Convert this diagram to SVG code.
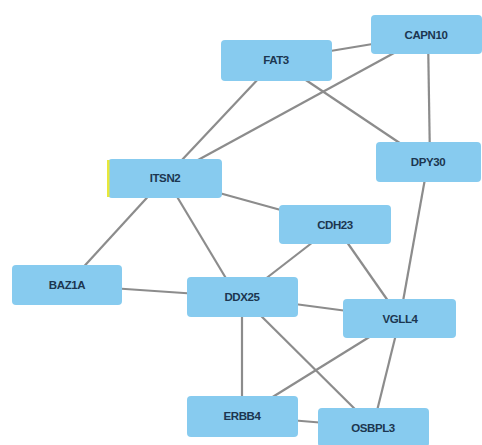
<svg xmlns="http://www.w3.org/2000/svg" width="482" height="445" viewBox="0 0 482 445">
<style>
.e{stroke:#8c8c8c;stroke-width:2.2;fill:none}
.n rect{fill:#87cbef;stroke:none}
.n text{font-family:"Liberation Sans",Arial,sans-serif;font-size:11.5px;font-weight:bold;fill:#1c3650;text-anchor:middle;dominant-baseline:central;letter-spacing:-0.4px}
</style>
<rect width="482" height="445" fill="#ffffff"/>
<g id="edges">
<line class="e" x1="276" y1="60" x2="427" y2="35"/>
<line class="e" x1="276" y1="60" x2="165" y2="178"/>
<line class="e" x1="276" y1="60" x2="428" y2="162"/>
<line class="e" x1="427" y1="35" x2="165" y2="178"/>
<line class="e" x1="428" y1="35" x2="430" y2="162"/>
<line class="e" x1="165" y1="178" x2="67" y2="285"/>
<line class="e" x1="170" y1="185" x2="233" y2="290"/>
<line class="e" x1="165" y1="178" x2="335" y2="225"/>
<line class="e" x1="428" y1="162" x2="400" y2="318"/>
<line class="e" x1="335" y1="225" x2="242" y2="297"/>
<line class="e" x1="335" y1="225" x2="400" y2="318"/>
<line class="e" x1="67" y1="285" x2="242" y2="297"/>
<line class="e" x1="242" y1="297" x2="400" y2="318"/>
<line class="e" x1="242" y1="297" x2="242" y2="416"/>
<line class="e" x1="242" y1="297" x2="373" y2="427"/>
<line class="e" x1="400" y1="318" x2="242" y2="416"/>
<line class="e" x1="400" y1="318" x2="373" y2="427"/>
<line class="e" x1="242" y1="416" x2="373" y2="427"/>
</g>
<g id="FAT3" class="n"><rect x="221" y="40" width="111" height="41" rx="4"/><text x="276" y="60">FAT3</text></g>
<g id="CAPN10" class="n"><rect x="371" y="15" width="111" height="39" rx="4"/><text x="426" y="35">CAPN10</text></g>
<g id="DPY30" class="n"><rect x="376" y="142" width="105" height="40" rx="4"/><text x="428" y="162">DPY30</text></g>
<g id="ITSN2" class="n"><rect x="108" y="159" width="114" height="39" rx="4"/><rect x="107" y="160" width="2.5" height="37" style="fill:#e8e83a"/><text x="165" y="178">ITSN2</text></g>
<g id="BAZ1A" class="n"><rect x="12" y="265" width="110" height="40" rx="4"/><text x="67" y="285">BAZ1A</text></g>
<g id="CDH23" class="n"><rect x="279" y="205" width="112" height="39" rx="4"/><text x="335" y="225">CDH23</text></g>
<g id="DDX25" class="n"><rect x="187" y="277" width="111" height="40" rx="4"/><text x="242" y="297">DDX25</text></g>
<g id="VGLL4" class="n"><rect x="343" y="299" width="113" height="39" rx="4"/><text x="400" y="319">VGLL4</text></g>
<g id="ERBB4" class="n"><rect x="187" y="396" width="111" height="41" rx="4"/><text x="242" y="416">ERBB4</text></g>
<g id="OSBPL3" class="n"><rect x="318" y="408" width="111" height="39" rx="4"/><text x="373" y="428">OSBPL3</text></g>
</svg>
